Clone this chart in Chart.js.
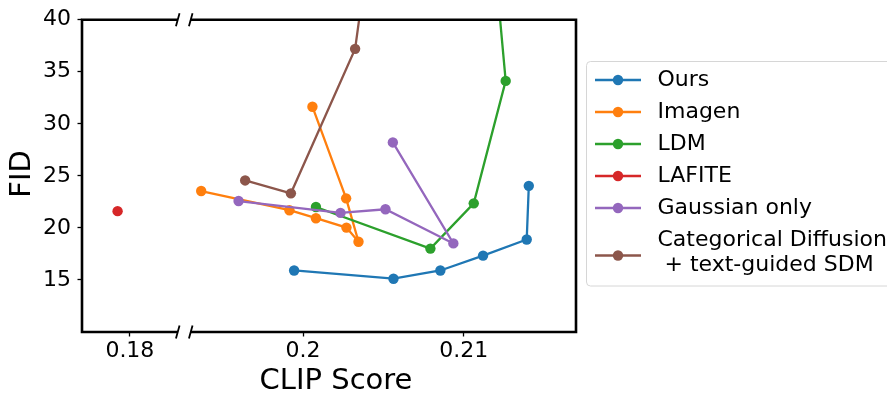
<!DOCTYPE html>
<html>
<head>
<meta charset="utf-8">
<script src="https://cdn.jsdelivr.net/npm/chart.js@4.4.0/dist/chart.umd.min.js"></script>
<style>
  html, body { margin: 0; padding: 0; background: #fff; }
  #wrap { width: 887px; height: 396px; }
</style>
</head>
<body>
<div id="wrap"><canvas id="fidClip" width="887" height="396"></canvas></div>
<script>
/* CLIP score vs FID, broken x axis */

const seriesNames = ['Ours', 'Imagen', 'LDM', 'LAFITE', 'Gaussian only',
    ['Categorical Diffusion', ' + text-guided SDM']];

const oursClip = [0.19944, 0.20563, 0.20855, 0.21121, 0.21393, 0.21406];
const oursFid  = [15.91, 15.12, 15.91, 17.34, 18.89, 24.04];

const imagenClip = [0.19365, 0.19915, 0.20080, 0.20270, 0.20345, 0.20268, 0.20058];
const imagenFid  = [23.54, 21.70, 20.93, 20.03, 18.67, 22.84, 31.64];

const ldmClip = [0.20080, 0.20793, 0.21063, 0.21262, 0.21180];
const ldmFid  = [22.01, 18.01, 22.36, 34.12, 48.0];

const lafiteClip = [0.17923];
const lafiteFid  = [21.61];

const gaussClip = [0.19598, 0.20233, 0.20513, 0.20936, 0.20559];
const gaussFid  = [22.58, 21.44, 21.79, 18.51, 28.21];

const catClip = [0.19639, 0.19924, 0.20324, 0.20420];
const catFid  = [24.56, 23.32, 37.20, 48.0];

const yTickValues = [15, 20, 25, 30, 35, 40];
const xLeftTicks = [0.18];
const xRightTicks = [0.2, 0.21];
const xTickLabels = { 0.18: '0.18', 0.2: '0.2', 0.21: '0.21' };

const colors = ['#1f77b4', '#ff7f0e', '#2ca02c', '#d62728', '#9467bd', '#8c564b'];
const FONT = "'DejaVu Sans', sans-serif";

function toPoints(xs, ys) {
    return xs.map((x, i) => ({ x: x, y: ys[i] }));
}

const seriesData = [
    [oursClip, oursFid, 'x2'],
    [imagenClip, imagenFid, 'x2'],
    [ldmClip, ldmFid, 'x2'],
    [lafiteClip, lafiteFid, 'x1'],
    [gaussClip, gaussFid, 'x2'],
    [catClip, catFid, 'x2']
];

const datasets = seriesData.map((s, i) => ({
    label: Array.isArray(seriesNames[i]) ? seriesNames[i].join(' ') : seriesNames[i],
    data: toPoints(s[0], s[1]),
    xAxisID: s[2],
    yAxisID: 'y',
    showLine: true,
    borderColor: colors[i],
    backgroundColor: colors[i],
    borderWidth: 2.3,
    pointRadius: 5.2,
    pointBorderWidth: 0,
    pointHoverRadius: 5.2,
    order: seriesData.length - i
}));

function xAxis(min, max, weight, ticks) {
    return {
        type: 'linear',
        position: 'bottom',
        stack: 'clip',
        stackWeight: weight,
        min: min,
        max: max,
        afterBuildTicks: s => { s.ticks = ticks.map(v => ({ value: v })); },
        afterFit: s => { s.height = 64; },
        ticks: {
            autoSkip: false,
            maxRotation: 0,
            padding: 2,
            color: '#000',
            font: { family: FONT, size: 22 },
            callback: v => xTickLabels[v]
        },
        grid: {
            drawOnChartArea: false,
            drawTicks: true,
            tickLength: 4.5,
            tickWidth: 1.3,
            tickColor: '#000'
        },
        border: { display: false }
    };
}

const framePlugin = {
    id: 'frameAndLegend',
    afterDraw(chart) {
        const { ctx, chartArea: a, scales } = chart;
        const breakL = scales.x1.getPixelForValue(0.183);
        const breakR = scales.x2.getPixelForValue(0.193);

        ctx.save();
        // spines with a gap at the break
        ctx.strokeStyle = '#000';
        ctx.lineWidth = 2.6;
        ctx.lineCap = 'butt';
        ctx.beginPath();
        ctx.moveTo(a.left, a.top - 1.3); ctx.lineTo(a.left, a.bottom + 1.3);
        ctx.moveTo(a.right, a.top - 1.3); ctx.lineTo(a.right, a.bottom + 1.3);
        [a.top, a.bottom].forEach(y => {
            ctx.moveTo(a.left, y); ctx.lineTo(breakL, y);
            ctx.moveTo(breakR, y); ctx.lineTo(a.right, y);
        });
        ctx.stroke();

        // diagonal break marks
        ctx.lineWidth = 1.8;
        ctx.beginPath();
        [a.top, a.bottom].forEach(y => {
            [breakL, breakR].forEach(x => {
                ctx.moveTo(x - 1.8, y + 6.5);
                ctx.lineTo(x + 1.8, y - 6.5);
            });
        });
        ctx.stroke();

        // axis titles
        ctx.fillStyle = '#000';
        ctx.font = '29px ' + FONT;
        ctx.textAlign = 'center';
        ctx.textBaseline = 'middle';
        ctx.fillText('CLIP Score', 336, 381);
        ctx.save();
        ctx.translate(22, 174);
        ctx.rotate(-Math.PI / 2);
        ctx.fillText('FID', 0, 0);
        ctx.restore();

        // legend
        const bx = 586.5, by = 61.5, bw = 305, bh = 224.5, r = 4;
        ctx.beginPath();
        ctx.moveTo(bx + r, by);
        ctx.lineTo(bx + bw - r, by);
        ctx.arcTo(bx + bw, by, bx + bw, by + r, r);
        ctx.lineTo(bx + bw, by + bh - r);
        ctx.arcTo(bx + bw, by + bh, bx + bw - r, by + bh, r);
        ctx.lineTo(bx + r, by + bh);
        ctx.arcTo(bx, by + bh, bx, by + bh - r, r);
        ctx.lineTo(bx, by + r);
        ctx.arcTo(bx, by, bx + r, by, r);
        ctx.closePath();
        ctx.fillStyle = 'rgba(255,255,255,0.8)';
        ctx.fill();
        ctx.strokeStyle = '#d6d6d6';
        ctx.lineWidth = 1;
        ctx.stroke();

        ctx.font = '22px ' + FONT;
        ctx.textAlign = 'left';
        ctx.textBaseline = 'middle';
        let rowY = 80;
        chart.data.datasets.forEach((ds, i) => {
            const name = seriesNames[i];
            const lines = Array.isArray(name) ? name : [name];
            const markY = lines.length > 1 ? rowY + 15.5 : rowY;
            ctx.strokeStyle = ds.borderColor;
            ctx.lineWidth = 2.3;
            ctx.beginPath();
            ctx.moveTo(595, markY); ctx.lineTo(641, markY);
            ctx.stroke();
            ctx.fillStyle = ds.borderColor;
            ctx.beginPath();
            ctx.arc(618, markY, 5.2, 0, Math.PI * 2);
            ctx.fill();
            ctx.fillStyle = '#000';
            lines.forEach((t, k) => ctx.fillText(t, 657.5, rowY + k * 25.7));
            rowY += 32;
        });
        ctx.restore();
    }
};

new Chart(document.getElementById('fidClip').getContext('2d'), {
    type: 'scatter',
    data: { datasets: datasets },
    options: {
        responsive: false,
        animation: false,
        devicePixelRatio: 1,
        layout: { padding: { top: 17, right: 311, left: 0, bottom: 0 } },
        plugins: {
            legend: { display: false },
            tooltip: { enabled: false }
        },
        scales: {
            x1: xAxis(0.177, 0.183407, 102.3, xLeftTicks),
            x2: xAxis(0.192595, 0.217, 392, xRightTicks),
            y: {
                type: 'linear',
                position: 'left',
                min: 10,
                max: 40,
                afterBuildTicks: s => { s.ticks = yTickValues.map(v => ({ value: v })); },
                afterFit: s => { s.width = 82; },
                ticks: {
                    padding: 6.5,
                    color: '#000',
                    font: { family: FONT, size: 22 }
                },
                grid: {
                    drawOnChartArea: false,
                    drawTicks: true,
                    tickLength: 4.5,
                    tickWidth: 1.3,
                    tickColor: '#000'
                },
                border: { display: false }
            }
        }
    },
    plugins: [framePlugin]
});
</script>
</body>
</html>
